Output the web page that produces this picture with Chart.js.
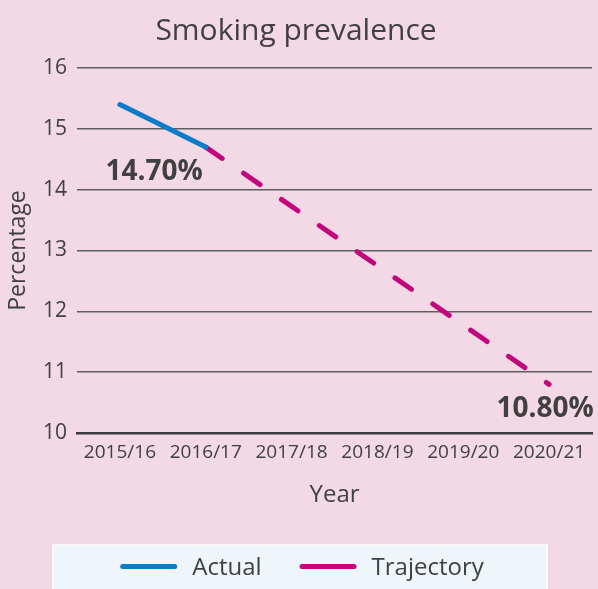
<!DOCTYPE html>
<html>
<head>
<meta charset="utf-8">
<title>Smoking prevalence</title>
<script src="https://cdn.jsdelivr.net/npm/chart.js@4/dist/chart.umd.min.js"></script>
<style>
  html, body { margin: 0; padding: 0; background: #f3d8e6; }
  #wrap { width: 598px; height: 589px; }
</style>
</head>
<body>
<div id="wrap"><canvas id="prevalence" width="598" height="589"></canvas></div>
<script>
const years = ['2015/16', '2016/17', '2017/18', '2018/19', '2019/20', '2020/21'];
const actual = [15.4, 14.7, null, null, null, null];
const trajectory = [null, 14.7, null, null, null, 10.8];
const yTicks = [10, 11, 12, 13, 14, 15, 16];

const FONT = '"Open Sans", "Noto Sans", sans-serif';
const TEXT = '#404040';
const BLUE = '#0a7dc6';
const MAGENTA = '#c2077c';

// bold value labels next to the trajectory end points
const valueLabels = {
  id: 'valueLabels',
  afterDatasetsDraw(chart, args, opts) {
    const { ctx } = chart;
    ctx.save();
    ctx.font = 'bold 28px ' + FONT;
    ctx.fillStyle = TEXT;
    ctx.textBaseline = 'middle';
    opts.items.forEach(item => {
      const pt = chart.getDatasetMeta(item.dataset).data[item.index];
      const v = chart.data.datasets[item.dataset].data[item.index];
      ctx.textAlign = item.align;
      ctx.fillText(v.toFixed(2) + '%', pt.x + item.dx, pt.y + item.dy);
    });
    ctx.restore();
  }
};

// legend in a pale panel along the bottom edge
const legendPanel = {
  id: 'legendPanel',
  afterDraw(chart, args, opts) {
    const { ctx, width, height } = chart;
    const x0 = (width - opts.width) / 2 + 1;
    const y0 = height - opts.height;
    ctx.save();
    ctx.fillStyle = opts.background;
    ctx.fillRect(x0, y0, opts.width, opts.height + 2);
    ctx.strokeStyle = '#ffffff';
    ctx.lineWidth = 1.5;
    ctx.strokeRect(x0, y0, opts.width, opts.height + 4);

    ctx.font = opts.fontSize + 'px ' + FONT;
    const items = chart.data.datasets.map(ds => ({
      text: ds.label,
      color: ds.borderColor,
      tw: ctx.measureText(ds.label).width
    }));
    let total = 0;
    items.forEach((it, i) => {
      total += opts.sample + opts.gap + it.tw + (i ? opts.spacing : 0);
    });
    let x = width / 2 - total / 2 + 3;
    const y = y0 + opts.height / 2 + 0.5;
    ctx.textBaseline = 'middle';
    ctx.textAlign = 'left';
    items.forEach(it => {
      ctx.beginPath();
      ctx.lineCap = 'round';
      ctx.lineWidth = 5;
      ctx.strokeStyle = it.color;
      ctx.moveTo(x + 2.5, y - 1);
      ctx.lineTo(x + opts.sample - 2.5, y - 1);
      ctx.stroke();
      ctx.fillStyle = TEXT;
      ctx.fillText(it.text, x + opts.sample + opts.gap, y + 1);
      x += opts.sample + opts.gap + it.tw + opts.spacing;
    });
    ctx.restore();
  }
};

new Chart(document.getElementById('prevalence'), {
  type: 'line',
  data: {
    labels: years,
    datasets: [
      {
        label: 'Actual',
        data: actual,
        borderColor: BLUE,
        borderWidth: 5,
        borderCapStyle: 'round',
        pointRadius: 0,
        tension: 0
      },
      {
        label: 'Trajectory',
        data: trajectory,
        borderColor: MAGENTA,
        borderWidth: 5,
        borderDash: [20, 26],
        borderCapStyle: 'round',
        pointRadius: 0,
        spanGaps: true,
        tension: 0
      }
    ]
  },
  options: {
    responsive: false,
    animation: false,
    layout: { padding: { right: 6, bottom: 44 } },
    plugins: {
      legend: { display: false },
      tooltip: { enabled: false },
      title: {
        display: true,
        text: 'Smoking prevalence',
        color: TEXT,
        font: { family: FONT, size: 30, weight: 'normal' },
        padding: { top: 13, bottom: 19 }
      },
      valueLabels: {
        items: [
          { dataset: 1, index: 1, align: 'right', dx: -3, dy: 25 },
          { dataset: 1, index: 5, align: 'center', dx: -4, dy: 25 }
        ]
      },
      legendPanel: {
        width: 494,
        height: 44,
        background: '#eef5fb',
        fontSize: 24,
        sample: 57,
        gap: 15,
        spacing: 38
      }
    },
    scales: {
      x: {
        offset: true,
        grid: { display: false, offset: true },
        border: { display: true, color: '#3a3a3a', width: 2.5 },
        ticks: {
          color: TEXT,
          font: { family: FONT, size: 19 },
          padding: 0,
          maxRotation: 0,
          autoSkip: false
        },
        title: {
          display: true,
          text: 'Year',
          color: TEXT,
          font: { family: FONT, size: 24 },
          padding: { bottom: 35 }
        },
        afterFit(scale) { scale.height = 112; }
      },
      y: {
        min: yTicks[0],
        max: yTicks[yTicks.length - 1],
        afterBuildTicks(scale) { scale.ticks = yTicks.map(v => ({ value: v })); },
        grid: {
          color: '#5e5e5e',
          lineWidth: 1.5,
          drawTicks: false
        },
        border: { display: false },
        ticks: {
          color: TEXT,
          font: { family: FONT, size: 21 },
          padding: 10
        },
        title: {
          display: true,
          text: 'Percentage',
          color: TEXT,
          font: { family: FONT, size: 23 },
          padding: { top: 5 }
        },
        afterFit(scale) { scale.width = 77; }
      }
    }
  },
  plugins: [valueLabels, legendPanel]
});
</script>
</body>
</html>
